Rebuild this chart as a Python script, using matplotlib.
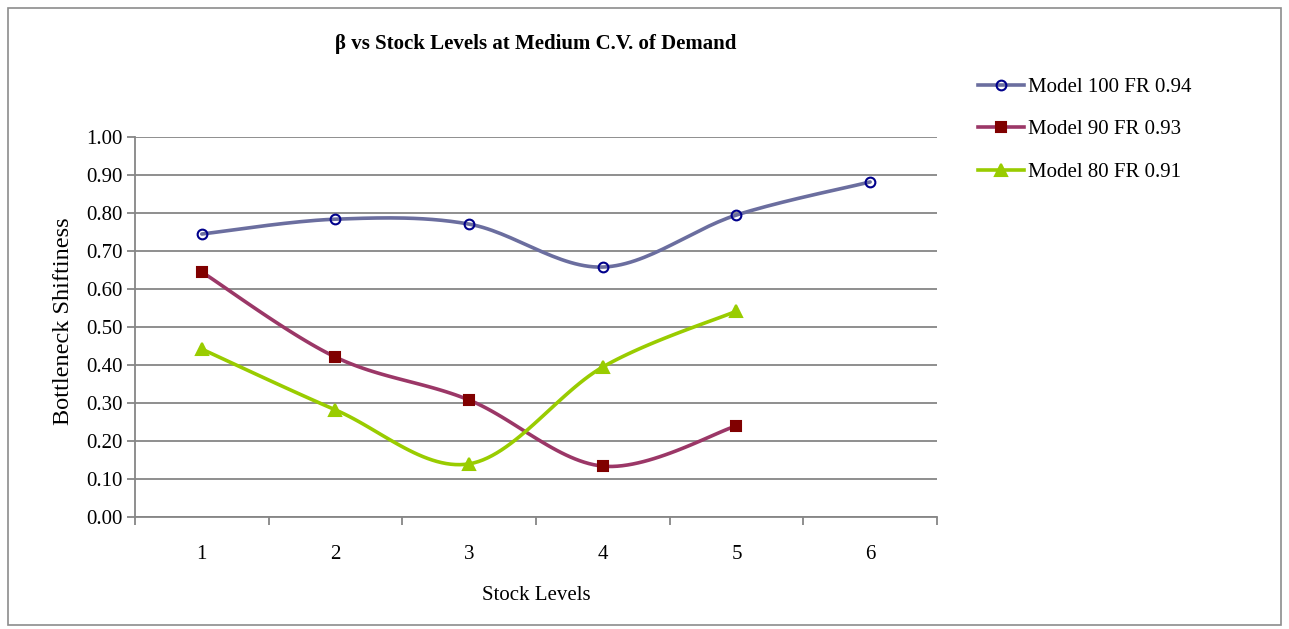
import numpy as np
import matplotlib
matplotlib.use("Agg")
import matplotlib.pyplot as plt
from matplotlib.patches import Rectangle
from matplotlib.lines import Line2D

plt.rcParams['font.family'] = ['Liberation Serif', 'DejaVu Serif']

stock_levels = [1, 2, 3, 4, 5, 6]
model100 = [0.745, 0.784, 0.771, 0.658, 0.795, 0.882]
model90 = [0.645, 0.421, 0.308, 0.134, 0.240]
model80 = [0.442, 0.282, 0.140, 0.395, 0.542]
labels = ["Model 100 FR 0.94", "Model 90 FR 0.93", "Model 80 FR 0.91"]
yticks = [0.0, 0.1, 0.2, 0.3, 0.4, 0.5, 0.6, 0.7, 0.8, 0.9, 1.0]


def smooth(xs, ys, n=30):
    xs = np.asarray(xs, float)
    ys = np.asarray(ys, float)
    px = np.concatenate([[xs[0]], xs, [xs[-1]]])
    py = np.concatenate([[ys[0]], ys, [ys[-1]]])
    ox, oy = [], []
    t = np.linspace(0, 1, n)
    for i in range(1, len(px) - 2):
        p0 = np.array([px[i], py[i]])
        p3 = np.array([px[i + 1], py[i + 1]])
        p1 = p0 + (np.array([px[i + 1], py[i + 1]]) - np.array([px[i - 1], py[i - 1]])) / 6
        p2 = p3 - (np.array([px[i + 2], py[i + 2]]) - np.array([px[i], py[i]])) / 6
        b = ((1 - t) ** 3)[:, None] * p0 + (3 * (1 - t) ** 2 * t)[:, None] * p1 + \
            (3 * (1 - t) * t ** 2)[:, None] * p2 + (t ** 3)[:, None] * p3
        ox.extend(b[:, 0]); oy.extend(b[:, 1])
    return np.array(ox), np.array(oy)


FS = 15
fig = plt.figure(figsize=(12.89, 6.29), dpi=100)
fig.patches.append(Rectangle((0.006, 0.006), 0.988, 0.982, transform=fig.transFigure,
                             fill=False, edgecolor='#8c8c8c', linewidth=1.2))
ax = fig.add_axes([0.1047, 0.178, 0.6222, 0.604])

series = [
    (stock_levels, model100, '#6B6E9F', 'o', 'none', '#00008B', 7),
    (stock_levels[:5], model90, '#9B3767', 's', '#800000', '#800000', 7),
    (stock_levels[:5], model80, '#99CC00', '^', '#99CC00', '#99CC00', 9),
]
handles = []
for (xs, ys, lc, m, mfc, mec, ms), lab in zip(series, labels):
    sx, sy = smooth(xs, ys)
    ax.plot(sx, sy, color=lc, lw=2.6, zorder=3, solid_capstyle='round')
    ax.plot(xs, ys, linestyle='none', marker=m, markersize=ms, markerfacecolor=mfc,
            markeredgecolor=mec, markeredgewidth=1.5, zorder=4)
    handles.append(Line2D([], [], color=lc, lw=2.6, marker=m, markersize=ms,
                          markerfacecolor=mfc, markeredgecolor=mec, markeredgewidth=1.5))

ax.set_xlim(0.5, 6.5)
ax.set_ylim(0, 1.0)
ax.set_yticks(yticks)
ax.set_yticklabels([f"{v:.2f}" for v in yticks], fontsize=FS)
ax.set_xticks(stock_levels)
ax.set_xticklabels([str(v) for v in stock_levels], fontsize=FS)
ax.set_xticks(np.arange(0.5, 6.6, 1.0), minor=True)
ax.tick_params(axis='x', which='major', length=0, pad=20)
ax.tick_params(axis='x', which='minor', length=6, color='#868686', width=1.3, direction='out')
ax.tick_params(axis='y', length=6, color='#868686', width=1.3, direction='out', pad=3)
ax.grid(axis='y', color='#868686', lw=1.3)
ax.set_axisbelow(True)
for s in ['top', 'right']:
    ax.spines[s].set_visible(False)
for s in ['left', 'bottom']:
    ax.spines[s].set_color('#868686')
    ax.spines[s].set_linewidth(1.3)

fig.text(536 / 1289, 1 - 44 / 629, "β vs Stock Levels at Medium C.V. of Demand", fontsize=FS,
         fontweight='bold', ha='center', va='center')
ax.set_xlabel("Stock Levels", fontsize=FS, va='center')
ax.xaxis.set_label_coords(0.5, -(595 - 517) / 380)
ax.set_ylabel("Bottleneck Shiftiness", fontsize=17.5, va='center')
ax.yaxis.set_label_coords(-(135 - 64) / 802, (517 - 321) / 380)

fig.legend(handles, labels, loc='upper left', bbox_to_anchor=(0.744, 0.907), frameon=False,
           fontsize=FS, handlelength=2.2, labelspacing=1.1, handletextpad=0.2)

fig.savefig("out.png", dpi=100)
